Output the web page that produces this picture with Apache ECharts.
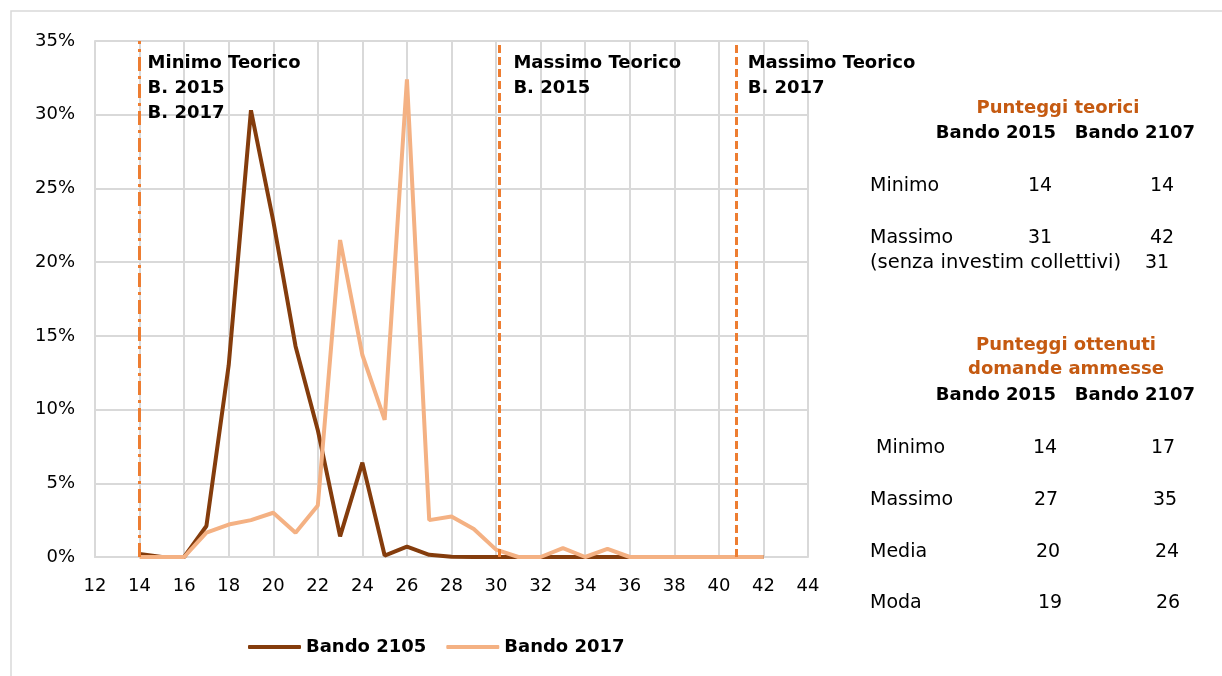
<!DOCTYPE html>
<html>
<head>
<meta charset="utf-8">
<script src="https://cdn.jsdelivr.net/npm/echarts@6/dist/echarts.min.js"></script>
<style>
html,body{margin:0;padding:0;background:#fff;}
#chart{width:1222px;height:676px;}
</style>
</head>
<body>
<div id="chart"></div>
<script>
// punteggi (asse x) e quota di domande (%)
var scores = [14,15,16,17,18,19,20,21,22,23,24,25,26,27,28,29,30,31,32,33,34,35,36,37,38,39,40,41,42];
var bando2105 = [0.2,0,0,2.1,13.0,30.3,22.8,14.3,8.6,1.4,6.4,0.1,0.7,0.15,0.02,0,0,0,0,0,0,0,0,0,0,0,0,0,0];
var bando2017 = [0,0,0,1.65,2.2,2.5,3.0,1.65,3.5,21.5,13.7,9.3,32.4,2.5,2.75,1.9,0.5,0,0,0.6,0,0.55,0,0,0,0,0,0,0];
var seriesNames = ['Bando 2105','Bando 2017'];

// linee verticali dei punteggi teorici
var markerValues = [14, 30.15, 40.8];
var markerLabels = ['Minimo Teorico\nB. 2015\nB. 2017', 'Massimo Teorico\nB. 2015', 'Massimo Teorico\nB. 2017'];

// tabella a destra
var headerCols = ['Bando 2015','Bando 2107'];
var teoriciRows = ['Minimo','Massimo','(senza investim collettivi)'];
var teorici2015 = ['14','31',''];
var teorici2017 = ['14','42','31'];
var ottenutiRows = [' Minimo','Massimo','Media','Moda'];
var ottenuti2015 = ['14','27','20','19'];
var ottenuti2017 = ['17','35','24','26'];

var FONT = '"DejaVu Sans", sans-serif';
var ORANGE = '#ED7D31';

function pairs(vals){
    var out=[];
    for(var i=0;i<scores.length;i++){ out.push([scores[i], vals[i]]); }
    return out;
}

var chart = echarts.init(document.getElementById('chart'));

var markData = [
    {xAxis: markerValues[0], lineStyle:{type:[14,5,3,5]}},
    {xAxis: markerValues[1], lineStyle:{type:[8,4]}},
    {xAxis: markerValues[2], lineStyle:{type:[8,4]}}
];

chart.setOption({
    animation:false,
    backgroundColor:'#fff',
    grid:{left:95, right:414, top:41, bottom:119},
    legend:{
        left:243, top:633, itemWidth:53, itemHeight:4, itemGap:20, icon:'roundRect',
        textStyle:{fontFamily:FONT, fontSize:18, fontWeight:'bold', color:'#000'},
        data:seriesNames
    },
    xAxis:{
        type:'value', min:12, max:44, interval:2,
        axisLine:{lineStyle:{color:'#d9d9d9', width:2}},
        axisTick:{show:false},
        axisLabel:{fontFamily:FONT, fontSize:18, color:'#000', margin:20},
        splitLine:{lineStyle:{color:'#d9d9d9', width:2}}
    },
    yAxis:{
        type:'value', min:0, max:35, interval:5,
        axisLine:{show:true, lineStyle:{color:'#d9d9d9', width:2}},
        axisTick:{show:false},
        axisLabel:{fontFamily:FONT, fontSize:18, color:'#000', margin:20, formatter:'{value}%'},
        splitLine:{lineStyle:{color:'#d9d9d9', width:2}}
    },
    series:[
        {
            name:seriesNames[0], type:'line', symbol:'none', data:pairs(bando2105),
            lineStyle:{color:'#843C0C', width:4}, itemStyle:{color:'#843C0C'},
            markLine:{
                silent:true, symbol:['none','none'], label:{show:false},
                lineStyle:{color:ORANGE, width:3, opacity:1},
                data:markData
            }
        },
        {
            name:seriesNames[1], type:'line', symbol:'none', data:pairs(bando2017),
            lineStyle:{color:'#F4B183', width:4}, itemStyle:{color:'#F4B183'}
        }
    ]
});

// testi: etichette delle linee e tabella
var g = [];
g.push({type:'rect', shape:{x:11, y:11, width:1300, height:800}, style:{fill:'none', stroke:'#d9d9d9', lineWidth:1.5}, silent:true});

var labelOffsets = [8, 14, 11];
for(var i=0;i<markerValues.length;i++){
    var px = chart.convertToPixel({xAxisIndex:0}, markerValues[i]);
    g.push({type:'text', x:px+labelOffsets[i], y:51, style:{
        text:markerLabels[i], font:'bold 18px '+FONT, fill:'#000', lineHeight:25, verticalAlign:'top'
    }});
}

function txt(s, x, y, opts){
    opts = opts || {};
    g.push({type:'text', x:x, y:y, style:{
        text:s, font:(opts.bold?'bold ':'')+(opts.size||19)+'px '+FONT,
        fill:opts.color||'#000', align:opts.align||'left', verticalAlign:'middle'
    }});
}

// punteggi teorici
txt('Punteggi teorici', 1058, 108, {bold:true, color:'#C55A11', size:18, align:'center'});
txt(headerCols[0], 996, 133, {bold:true, size:18, align:'center'});
txt(headerCols[1], 1135, 133, {bold:true, size:18, align:'center'});
var ty = [186, 238, 263];
for(var r=0;r<teoriciRows.length;r++){
    txt(teoriciRows[r], 870, ty[r], {size: r==2 ? 19.5 : 19});
    if(teorici2015[r]) txt(teorici2015[r], 1040, ty[r], {align:'center'});
    txt(teorici2017[r], r==2 ? 1157 : 1162, ty[r], {align:'center'});
}
// punteggi ottenuti
txt('Punteggi ottenuti', 1066, 345, {bold:true, color:'#C55A11', size:18, align:'center'});
txt('domande ammesse', 1066, 369, {bold:true, color:'#C55A11', size:18, align:'center'});
txt(headerCols[0], 996, 395, {bold:true, size:18, align:'center'});
txt(headerCols[1], 1135, 395, {bold:true, size:18, align:'center'});
var oy = [448, 500, 552, 603];
var o15x = [1045, 1046, 1048, 1050];
var o17x = [1163, 1165, 1167, 1168];
for(var r2=0;r2<ottenutiRows.length;r2++){
    txt(ottenutiRows[r2], 870, oy[r2]);
    txt(ottenuti2015[r2], o15x[r2], oy[r2], {align:'center'});
    txt(ottenuti2017[r2], o17x[r2], oy[r2], {align:'center'});
}

chart.setOption({graphic:g});
</script>
</body>
</html>
